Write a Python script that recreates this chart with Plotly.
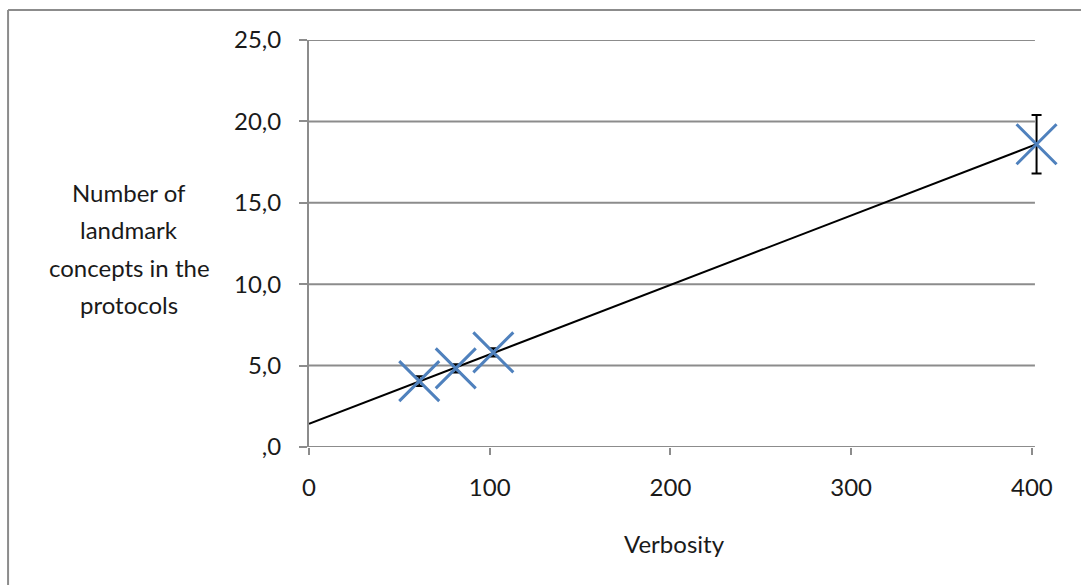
import numpy as np
import plotly.graph_objects as go

# Data
verbosity = [61.0, 81.2, 102.0, 402.6]
landmarks = [4.05, 4.83, 5.81, 18.6]
err = [0.3, 0.25, 0.25, 1.8]

x_tickvals = [0, 100, 200, 300, 400]
x_ticktext = ["0", "100", "200", "300", "400"]
y_tickvals = [0, 5, 10, 15, 20, 25]
y_ticktext = [",0", "5,0", "10,0", "15,0", "20,0", "25,0"]

x_title = "Verbosity"
y_title_lines = ["Number of", "landmark", "concepts in the", "protocols"]

# Linear trendline fitted from the data
slope, intercept = np.polyfit(verbosity, landmarks, 1)
trend_x = [0, max(verbosity)]
trend_y = [intercept + slope * v for v in trend_x]

FONT = "Lato"
FS = 24
TXT = "#1a1a1a"
GRID = "#8c8c8c"

X_AXIS_END = 401.7   # where the drawn axis/gridlines stop
X_RANGE_MAX = 420    # extra room so the last marker/error bar is not clipped

fig = go.Figure()
fig.add_trace(go.Scatter(
    x=trend_x, y=trend_y, mode="lines",
    line=dict(color="black", width=2),
    hoverinfo="skip", showlegend=False,
))
fig.add_trace(go.Scatter(
    x=verbosity, y=landmarks, mode="markers",
    marker=dict(symbol="x-thin", size=40, line=dict(color="#4f81bd", width=3), color="#4f81bd"),
    error_y=dict(type="data", array=err, visible=True, color="black", thickness=2, width=5),
    showlegend=False, cliponaxis=False,
))

L, T = 309, 40
B = 447
W, H = 1081, 585
px_per_unit = 723 / 400.0
R = L + X_RANGE_MAX * px_per_unit

fig.update_layout(
    width=W, height=H,
    margin=dict(l=L, r=W - R, t=T, b=H - B, pad=0),
    paper_bgcolor="white", plot_bgcolor="white",
    font=dict(family=FONT, size=FS, color=TXT),
    xaxis=dict(
        range=[0, X_RANGE_MAX], tickvals=x_tickvals, ticktext=x_ticktext,
        showgrid=False, zeroline=False, showline=False,
        ticks="outside", ticklen=7, tickwidth=2, tickcolor=GRID,
        ticklabelstandoff=12,
        tickfont=dict(family=FONT, size=FS, color=TXT),
    ),
    yaxis=dict(
        range=[0, 25], tickvals=y_tickvals, ticktext=y_ticktext,
        showgrid=False, zeroline=False,
        showline=True, linecolor=GRID, linewidth=2,
        ticks="outside", ticklen=8, tickwidth=2, tickcolor=GRID,
        ticklabelstandoff=13,
        tickfont=dict(family=FONT, size=FS, color=TXT),
    ),
)

# Horizontal gridlines (and x axis line at 0) ending at the axis end
for yv in y_tickvals:
    fig.add_shape(type="line", xref="x", yref="y", layer="below",
                  x0=0, x1=X_AXIS_END, y0=yv, y1=yv,
                  line=dict(color=GRID, width=2))

pw = R - L
ph = B - T

def px_x(p):
    return (p - L) / pw

def px_y(p):
    return (B - p) / ph

fig.add_annotation(
    text=x_title, xref="paper", yref="paper",
    x=px_x(675), y=px_y(543), showarrow=False,
    xanchor="center", yanchor="middle",
    font=dict(family=FONT, size=FS, color=TXT),
)
title_y = [192, 229, 267, 304]
for line, yy in zip(y_title_lines, title_y):
    fig.add_annotation(
        text=line, xref="paper", yref="paper",
        x=px_x(129), y=px_y(yy), showarrow=False,
        xanchor="center", yanchor="middle", align="center",
        font=dict(family=FONT, size=FS, color=TXT),
    )

# Outer chart frame (left and top edges visible)
fig.add_shape(type="line", xref="paper", yref="paper",
              x0=px_x(8), x1=px_x(8), y0=px_y(10), y1=px_y(590),
              line=dict(color="#8c8c8c", width=2))
fig.add_shape(type="line", xref="paper", yref="paper",
              x0=px_x(8), x1=px_x(1090), y0=px_y(10), y1=px_y(10),
              line=dict(color="#8c8c8c", width=2))

fig.write_html(
    "out.html",
    config={"displayModeBar": False},
    post_script="document.body.style.margin='0';document.body.style.overflow='hidden';",
)
